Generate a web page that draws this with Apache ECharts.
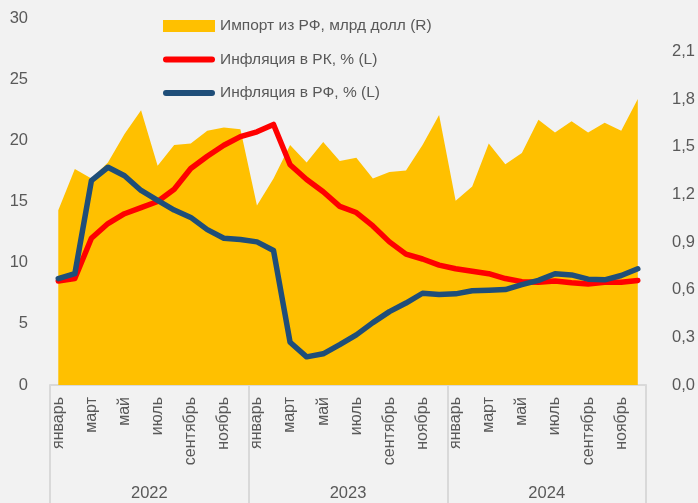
<!DOCTYPE html>
<html>
<head>
<meta charset="utf-8">
<script src="https://cdn.jsdelivr.net/npm/echarts@6/dist/echarts.min.js"></script>
<style>
  html, body { margin: 0; padding: 0; background: #f2f2f2; }
  #chart { width: 698px; height: 503px; }
</style>
</head>
<body>
<div id="chart"></div>
<script>
// years and month names for the two-level category axis
var years = ["2022", "2023", "2024"];
var monthNames = ["январь", "февраль", "март", "апрель", "май", "июнь",
  "июль", "август", "сентябрь", "октябрь", "ноябрь", "декабрь"];

// import from Russia, bln USD (right axis)
var importRF = [
  1.10, 1.36, 1.30, 1.40, 1.58, 1.73, 1.38, 1.51, 1.52, 1.60, 1.62, 1.61,
  1.13, 1.30, 1.51, 1.40, 1.53, 1.41, 1.43, 1.30, 1.34, 1.35, 1.51, 1.70,
  1.16, 1.25, 1.52, 1.39, 1.46, 1.67, 1.59, 1.66, 1.59, 1.65, 1.60, 1.80
];
// inflation in Kazakhstan, % (left axis)
var inflKZ = [
  8.5, 8.7, 12.0, 13.2, 14.0, 14.5, 15.0, 16.0, 17.7, 18.7, 19.6, 20.3,
  20.7, 21.3, 18.0, 16.8, 15.8, 14.6, 14.1, 13.0, 11.7, 10.7, 10.3, 9.8,
  9.5, 9.3, 9.1, 8.7, 8.45, 8.4, 8.5, 8.35, 8.25, 8.4, 8.4, 8.55
];
// inflation in Russia, % (left axis)
var inflRF = [
  8.7, 9.1, 16.7, 17.8, 17.1, 15.9, 15.1, 14.3, 13.7, 12.7, 12.0, 11.9,
  11.7, 11.0, 3.5, 2.3, 2.55, 3.3, 4.1, 5.1, 6.0, 6.7, 7.5, 7.4,
  7.45, 7.7, 7.75, 7.8, 8.2, 8.55, 9.1, 9.0, 8.65, 8.6, 8.95, 9.5
];

var seriesNames = ["Импорт из РФ, млрд долл (R)", "Инфляция в РК, % (L)", "Инфляция в РФ, % (L)"];

var categories = [];
years.forEach(function (y) {
  monthNames.forEach(function (m) { categories.push(m); });
});

var font = "'Liberation Sans', Arial, sans-serif";
var textColor = "#595959";
var capsule = "path://M3,0 H49 A3,3 0 0 1 49,6 H3 A3,3 0 0 1 3,0 Z";

var chart = echarts.init(document.getElementById("chart"));
chart.setOption({
  backgroundColor: "#f2f2f2",
  animation: false,
  textStyle: { fontFamily: font },
  grid: { left: 50, right: 47, top: 18, bottom: 118 },
  legend: {
    orient: "vertical",
    left: 163,
    top: 17,
    padding: 0,
    itemWidth: 52,
    itemHeight: 12,
    itemGap: 15.5,
    itemStyle: { borderWidth: 0 },
    textStyle: { color: textColor, fontSize: 15.5, lineHeight: 18, fontFamily: font },
    data: [
      { name: seriesNames[0], icon: "rect" },
      { name: seriesNames[1], icon: capsule },
      { name: seriesNames[2], icon: capsule }
    ]
  },
  xAxis: [
    {
      type: "category",
      data: categories,
      position: "bottom",
      boundaryGap: true,
      axisLine: { show: true, lineStyle: { color: "#d9d9d9", width: 2 } },
      axisTick: { show: false },
      axisLabel: {
        interval: 1,
        rotate: 90,
        margin: 12,
        color: textColor,
        fontSize: 16,
        fontFamily: font
      }
    },
    {
      type: "category",
      data: years,
      position: "bottom",
      boundaryGap: true,
      axisLine: { show: false },
      axisTick: { show: true, length: 118, lineStyle: { color: "#d9d9d9", width: 2 } },
      axisLabel: { margin: 100, color: textColor, fontSize: 16.5, fontFamily: font }
    }
  ],
  yAxis: [
    {
      type: "value",
      min: 0,
      max: 30,
      interval: 5,
      splitLine: { show: false },
      axisLine: { show: false },
      axisTick: { show: false },
      axisLabel: { margin: 22, color: textColor, fontSize: 16.5, fontFamily: font }
    },
    {
      type: "value",
      min: 0,
      max: 2.31,
      interval: 0.3,
      position: "right",
      splitLine: { show: false },
      axisLine: { show: false },
      axisTick: { show: false },
      axisLabel: {
        margin: 26,
        color: textColor,
        fontSize: 16.5,
        fontFamily: font,
        formatter: function (v) {
          var k = v / 0.3;
          if (Math.abs(k - Math.round(k)) > 1e-6) return "";
          return v.toFixed(1).replace(".", ",");
        }
      }
    }
  ],
  series: [
    {
      name: seriesNames[0],
      type: "line",
      yAxisIndex: 1,
      data: importRF,
      symbol: "none",
      color: "#FFC000",
      itemStyle: { color: "#FFC000" },
      lineStyle: { width: 0 },
      areaStyle: { color: "#FFC000", opacity: 1 },
      z: 1
    },
    {
      name: seriesNames[1],
      type: "line",
      yAxisIndex: 0,
      data: inflKZ,
      symbol: "none",
      color: "#FF0000",
      itemStyle: { color: "#FF0000" },
      lineStyle: { width: 5.5, color: "#FF0000", cap: "round", join: "round" },
      z: 2
    },
    {
      name: seriesNames[2],
      type: "line",
      yAxisIndex: 0,
      data: inflRF,
      symbol: "none",
      color: "#1F4E79",
      itemStyle: { color: "#1F4E79" },
      lineStyle: { width: 5.5, color: "#1F4E79", cap: "round", join: "round" },
      z: 3
    }
  ]
});
</script>
</body>
</html>
